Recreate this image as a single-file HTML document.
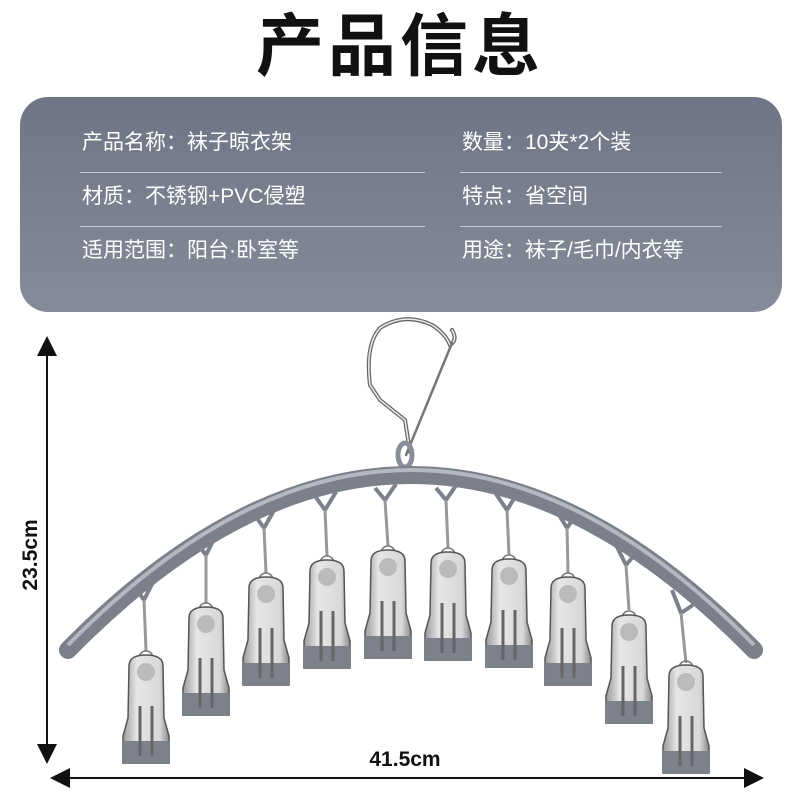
<!DOCTYPE html>
<html><head><meta charset="utf-8"><style>
body{margin:0;width:800px;height:800px;background:#fff;overflow:hidden;position:relative;font-family:"Liberation Sans","Noto Sans CJK SC",sans-serif}
.title{position:absolute;top:2px;left:0;width:800px;text-align:center;font-size:68px;font-weight:bold;color:#111;letter-spacing:4px;line-height:90px}
.box{position:absolute;left:20px;top:97px;width:762px;height:215px;border-radius:28px;background:linear-gradient(#6f7585,#868b99)}
.t{position:absolute;color:#fff;font-size:21px;line-height:24px}
.ln{position:absolute;height:1px;background:#c7cad2}
</style></head><body>
<div class="title">产品信息</div>
<div class="box">
<div class="t" style="left:62px;top:34px">产品名称：袜子晾衣架</div>
<div class="t" style="left:442px;top:34px">数量：10夹*2个装</div>
<div class="t" style="left:62px;top:88px">材质：不锈钢+PVC侵塑</div>
<div class="t" style="left:442px;top:88px">特点：省空间</div>
<div class="t" style="left:62px;top:142px">适用范围：阳台·卧室等</div>
<div class="t" style="left:442px;top:142px">用途：袜子/毛巾/内衣等</div>
<div class="ln" style="left:60px;top:75px;width:345px"></div>
<div class="ln" style="left:440px;top:75px;width:262px"></div>
<div class="ln" style="left:60px;top:129px;width:345px"></div>
<div class="ln" style="left:440px;top:129px;width:262px"></div>
</div>
<svg width="800" height="800" style="position:absolute;left:0;top:0">
<defs>
<linearGradient id="cg" x1="0" x2="1"><stop offset="0" stop-color="#9a9a9a"/><stop offset=".3" stop-color="#e6e6e6"/><stop offset=".8" stop-color="#d8d8d8"/><stop offset="1" stop-color="#8a8a8a"/></linearGradient>
<g id="clip">
<circle cx="0" cy="0" r="7" fill="none" stroke="#777" stroke-width="1.5"/>
<path d="M-17,8 Q-17,-3 0,-3 Q17,-3 17,8 L18,60 L23,78 L23,105 L-23,105 L-23,78 L-18,60 Z" fill="url(#cg)" stroke="#555" stroke-width="1.5"/>
<rect x="-23" y="83" width="46" height="22" fill="#7d818c"/>
<circle cx="0" cy="14" r="9" fill="#bbb"/>
<line x1="-6" y1="48" x2="-6" y2="98" stroke="#666" stroke-width="3"/>
<line x1="6" y1="48" x2="6" y2="98" stroke="#666" stroke-width="3"/>
</g>
<marker id="ah" markerWidth="10" markerHeight="10" refX="8" refY="5" orient="auto-start-reverse"><path d="M0,0 L10,5 L0,10 Z" fill="#111"/></marker>
</defs>
<!-- hook -->
<g fill="none" stroke-linecap="round">
<path d="M410,452 L405,420 L380,400 L370,385 Q365,345 380,328 Q405,312 432,325 Q445,333 450,345 Q458,340 452,330" stroke="#666" stroke-width="4"/>
<path d="M410,452 L405,420 L380,400 L370,385 Q365,345 380,328 Q405,312 432,325 Q445,333 450,345 Q458,340 452,330" stroke="#eee" stroke-width="1.5"/>
<line x1="452" y1="343" x2="406" y2="455" stroke="#777" stroke-width="2.5"/>
</g>
<ellipse cx="405" cy="455" rx="7" ry="12" fill="none" stroke="#8a8e98" stroke-width="5"/>
<!-- loops -->
<g fill="none" stroke="#7c808a" stroke-width="4" stroke-linejoin="round">
<path d="M134,586 L144,600 L154,580"/><path d="M196,542 L206,555 L216,535"/><path d="M254,514 L264,528 L276,507"/>
<path d="M315,496 L325,510 L336,492"/><path d="M375,488 L385,500 L396,484"/><path d="M436,488 L446,500 L457,484"/>
<path d="M496,494 L507,510 L518,492"/><path d="M556,510 L567,528 L578,512"/><path d="M616,545 L626,565 L637,552"/><path d="M672,590 L681,613 L693,605"/>
</g>
<!-- arc -->
<path d="M68,650 Q411,300 754,650" fill="none" stroke="#7c808a" stroke-width="18" stroke-linecap="round"/>
<path d="M68,645 Q411,295 754,645" fill="none" stroke="#b4b8c0" stroke-width="4"/>
<!-- wires -->
<g stroke="#999" stroke-width="3">
<line x1="144" y1="600" x2="146" y2="651"/><line x1="206" y1="555" x2="206" y2="603"/><line x1="264" y1="528" x2="266" y2="573"/>
<line x1="325" y1="510" x2="327" y2="556"/><line x1="385" y1="500" x2="388" y2="546"/><line x1="446" y1="500" x2="448" y2="548"/>
<line x1="507" y1="510" x2="509" y2="555"/><line x1="567" y1="528" x2="568" y2="573"/><line x1="626" y1="565" x2="629" y2="610"/><line x1="681" y1="613" x2="686" y2="663"/>
</g>
<use href="#clip" x="146" y="658"/><use href="#clip" x="206" y="610"/><use href="#clip" x="266" y="580"/>
<use href="#clip" x="327" y="563"/><use href="#clip" x="388" y="553"/><use href="#clip" x="448" y="555"/>
<use href="#clip" x="509" y="562"/><use href="#clip" x="568" y="580"/><use href="#clip" x="629" y="618"/><use href="#clip" x="686" y="668"/>
<!-- dimensions -->
<line x1="47" y1="340" x2="47" y2="760" stroke="#111" stroke-width="2" marker-start="url(#ah)" marker-end="url(#ah)"/>
<line x1="54" y1="778" x2="760" y2="778" stroke="#111" stroke-width="2" marker-start="url(#ah)" marker-end="url(#ah)"/>
<text x="405" y="766" text-anchor="middle" font-family="Liberation Sans" font-weight="bold" font-size="21" fill="#111">41.5cm</text>
<text transform="translate(37,555) rotate(-90)" text-anchor="middle" font-family="Liberation Sans" font-weight="bold" font-size="21" fill="#111">23.5cm</text>
</svg>
</body></html>
